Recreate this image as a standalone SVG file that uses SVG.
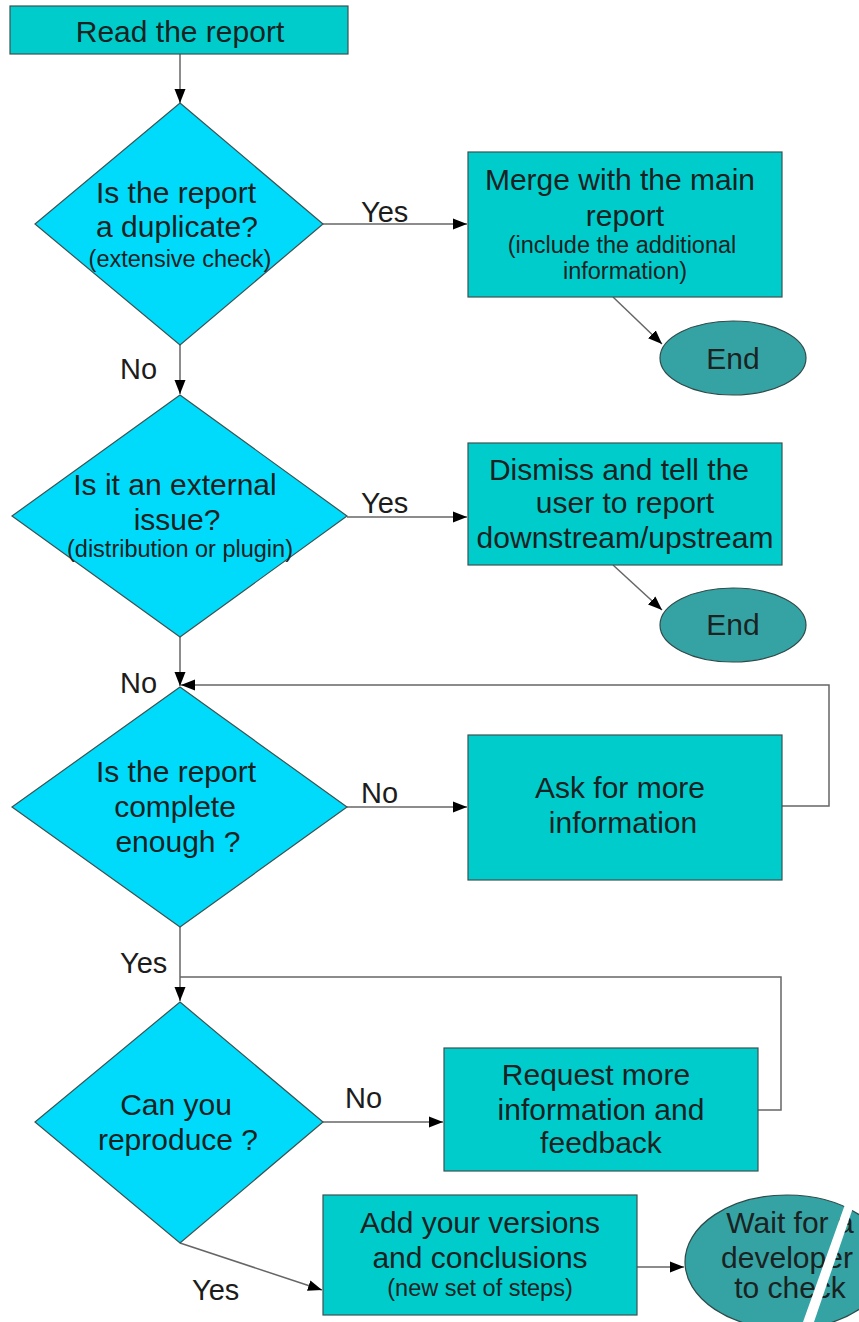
<svg xmlns="http://www.w3.org/2000/svg" width="859" height="1322" viewBox="0 0 859 1322">
<defs>
<marker id="arr" markerUnits="userSpaceOnUse" markerWidth="15" markerHeight="12" refX="14" refY="6" orient="auto">
<path d="M0,0.5 L14,6 L0,11.5 z" fill="#000"/>
</marker>
<style>
.box{fill:#00CCCC;stroke:#3b5252;stroke-width:1.2}
.dia{fill:#00DBFB;stroke:#3b5252;stroke-width:1.2}
.ell{fill:#35A3A3;stroke:#2f4a4a;stroke-width:1.2}
.t{font-family:"Liberation Sans",Arial,sans-serif;font-size:30px;fill:#1a2222;text-anchor:middle}
.s{font-family:"Liberation Sans",Arial,sans-serif;font-size:23.5px;fill:#1a2222;text-anchor:middle}
.lb{font-family:"Liberation Sans",Arial,sans-serif;font-size:29px;fill:#1c1c1c}
.c{fill:none;stroke:#666;stroke-width:1.5}
.ca{fill:none;stroke:#666;stroke-width:1.5;marker-end:url(#arr)}
</style>
</defs>
<rect width="859" height="1322" fill="#fff"/>

<g id="connectors">
<line class="ca" x1="180" y1="54" x2="180" y2="103"/>
<line class="ca" x1="323" y1="224" x2="467" y2="224"/>
<line class="ca" x1="613" y1="297" x2="662" y2="344"/>
<line class="ca" x1="180" y1="345" x2="180" y2="394"/>
<line class="ca" x1="347" y1="517" x2="467" y2="517"/>
<line class="ca" x1="613" y1="565" x2="662" y2="610"/>
<line class="ca" x1="180" y1="637" x2="180" y2="686"/>
<line class="ca" x1="347" y1="807" x2="467" y2="807"/>
<polyline class="ca" points="782,806 829,806 829,685 181,685"/>
<line class="ca" x1="180" y1="927" x2="180" y2="1001"/>
<polyline class="c" points="758,1110 781,1110 781,977 180,977"/>
<line class="ca" x1="323" y1="1122" x2="443" y2="1122"/>
<line class="ca" x1="180" y1="1243" x2="322" y2="1290"/>
<line class="ca" x1="637" y1="1267" x2="684" y2="1267"/>
<text class="lb" x="361" y="222">Yes</text>
<text class="lb" x="120" y="379">No</text>
<text class="lb" x="361" y="513">Yes</text>
<text class="lb" x="120" y="693">No</text>
<text class="lb" x="361" y="803">No</text>
<text class="lb" x="120" y="973">Yes</text>
<text class="lb" x="345" y="1108">No</text>
<text class="lb" x="192" y="1300">Yes</text>
</g>

<g id="read">
<rect class="box" x="10" y="6" width="338" height="48"/>
<text class="t" x="180" y="42">Read the report</text>
</g>

<g id="duplicate">
<polygon class="dia" points="180,103 323,224 180,345 35,224"/>
<text class="t" x="176" y="203">Is the report</text>
<text class="t" x="177" y="237">a duplicate?</text>
<text class="s" x="180" y="267">(extensive check)</text>
</g>

<g id="merge">
<rect class="box" x="468" y="152" width="314" height="145"/>
<text class="t" x="620" y="190">Merge with the main</text>
<text class="t" x="625" y="226">report</text>
<text class="s" x="622" y="253">(include the additional</text>
<text class="s" x="625" y="279">information)</text>
</g>

<g id="end1">
<ellipse class="ell" cx="733" cy="358" rx="73" ry="37"/>
<text class="t" x="733" y="369">End</text>
</g>

<g id="external">
<polygon class="dia" points="180,395 347,516 180,637 12,516"/>
<text class="t" x="175" y="495">Is it an external</text>
<text class="t" x="177" y="530">issue?</text>
<text class="s" x="180" y="557">(distribution or plugin)</text>
</g>

<g id="dismiss">
<rect class="box" x="468" y="443" width="314" height="122"/>
<text class="t" x="619" y="480">Dismiss and tell the</text>
<text class="t" x="625" y="513">user to report</text>
<text class="t" x="625" y="548">downstream/upstream</text>
</g>

<g id="end2">
<ellipse class="ell" cx="733" cy="625" rx="73" ry="37"/>
<text class="t" x="733" y="635">End</text>
</g>

<g id="complete">
<polygon class="dia" points="180,687 347,807 180,927 12,807"/>
<text class="t" x="176" y="782">Is the report</text>
<text class="t" x="175" y="817">complete</text>
<text class="t" x="178" y="852">enough ?</text>
</g>

<g id="ask">
<rect class="box" x="468" y="735" width="314" height="145"/>
<text class="t" x="620" y="798">Ask for more</text>
<text class="t" x="623" y="833">information</text>
</g>

<g id="reproduce">
<polygon class="dia" points="180,1002 323,1122 180,1243 35,1122"/>
<text class="t" x="176" y="1115">Can you</text>
<text class="t" x="178" y="1150">reproduce ?</text>
</g>

<g id="request">
<rect class="box" x="444" y="1048" width="314" height="123"/>
<text class="t" x="596" y="1085">Request more</text>
<text class="t" x="601" y="1120">information and</text>
<text class="t" x="601" y="1153">feedback</text>
</g>

<g id="add">
<rect class="box" x="323" y="1195" width="314" height="120"/>
<text class="t" x="480" y="1233">Add your versions</text>
<text class="t" x="480" y="1268">and conclusions</text>
<text class="s" x="480" y="1296">(new set of steps)</text>
</g>

<g id="wait">
<ellipse class="ell" cx="787" cy="1262" rx="102" ry="67"/>
<text class="t" x="790" y="1233">Wait for a</text>
<text class="t" x="787" y="1268">developer</text>
<text class="t" x="790" y="1298">to check</text>
</g>

<polygon points="848,1196 857,1196 814,1322 803,1322" fill="#fff"/>
</svg>
